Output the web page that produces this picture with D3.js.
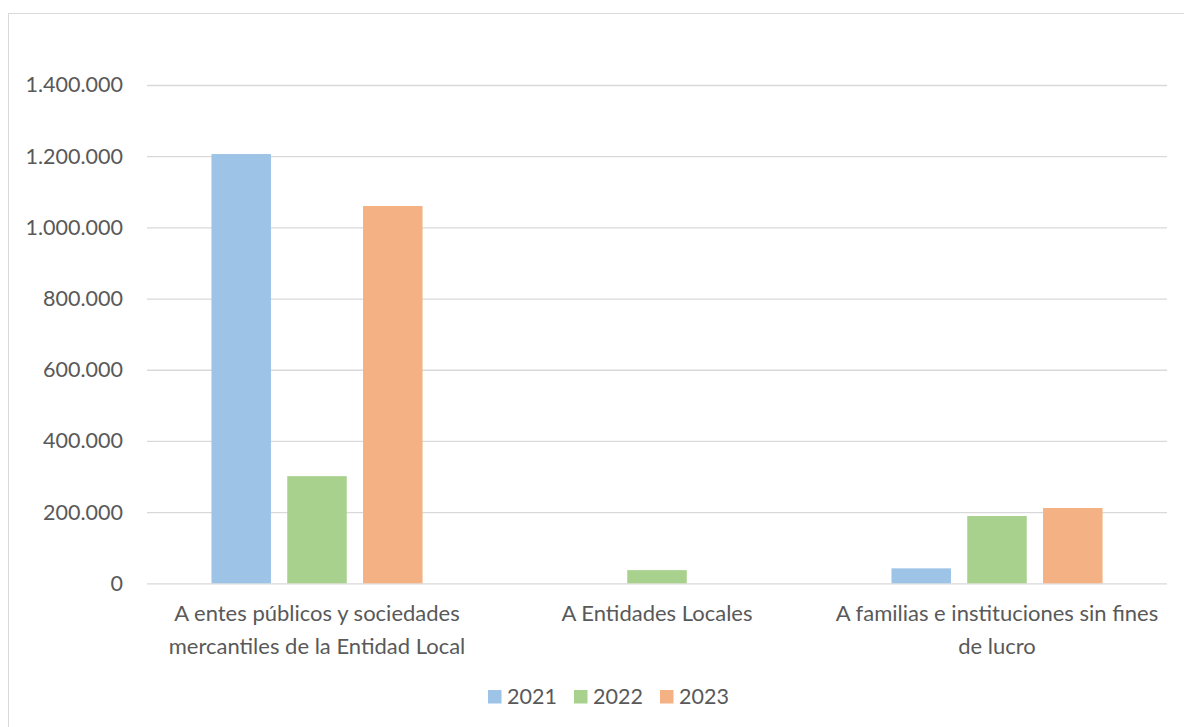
<!DOCTYPE html>
<html><head><meta charset="utf-8">
<script src="https://cdn.jsdelivr.net/npm/d3@7"></script>
<style>
html,body{margin:0;padding:0;background:#fff;}
svg text{font-family:Lato,"Open Sans",sans-serif;fill:#595959;}
</style></head>
<body>
<svg id="c" width="1184" height="727"></svg>
<script>
const categories = ["A entes públicos y sociedades\nmercantiles de la Entidad Local", "A Entidades Locales", "A familias e instituciones sin fines\nde lucro"];
const seriesNames = ["2021", "2022", "2023"];
const values2021 = [1206000, 0, 42000];
const values2022 = [301000, 37000, 189000];
const values2023 = [1060000, 0, 211500];
const seriesValues = [values2021, values2022, values2023];
const seriesColors = ["#9dc3e6", "#a9d18e", "#f4b183"];
const yTicks = [0, 200000, 400000, 600000, 800000, 1000000, 1200000, 1400000];

const svg = d3.select("#c");
const W = 1184, H = 727;
// chart frame
svg.append("rect").attr("x", 8.5).attr("y", 13.5).attr("width", W + 10).attr("height", H + 10)
  .attr("fill", "#fff").attr("stroke", "#d9d9d9").attr("stroke-width", 1);

const x0 = d3.scaleBand().domain(categories).range([147, 1167]).paddingInner(0).paddingOuter(0);
const y = d3.scaleLinear().domain([0, 1400000]).range([583.3, 85]);
const fmt = v => d3.formatLocale({decimal: ",", thousands: ".", grouping: [3], currency: ["", "€"]}).format(",.0f")(v);

// gridlines
const yAxis = d3.axisLeft(y).tickValues(yTicks).tickSize(-(1167 - 147)).tickFormat(fmt).tickPadding(24);
const gy = svg.append("g").attr("transform", "translate(147,0)").call(yAxis);
gy.select(".domain").remove();
gy.selectAll(".tick line").attr("stroke", "#d9d9d9").attr("stroke-width", 1.3);
gy.selectAll(".tick text").attr("font-size", 21.5).style("fill", "#595959");

// bars
const barW = 59.5, gap = 16.3;
const groupW = 3 * barW + 2 * gap;
const xs = d3.scaleBand().domain(seriesNames).range([0, groupW]).paddingInner(gap / (barW + gap)).paddingOuter(0);
seriesNames.forEach((s, si) => {
  svg.append("g").selectAll("rect").data(categories).join("rect")
    .attr("x", c => x0(c) + (x0.bandwidth() - groupW) / 2 + xs(s))
    .attr("width", xs.bandwidth())
    .attr("y", (c, i) => y(seriesValues[si][i]))
    .attr("height", (c, i) => y(0) - y(seriesValues[si][i]))
    .attr("fill", seriesColors[si]);
});

// x axis labels
const xAxis = d3.axisBottom(x0).tickSize(0).tickFormat("");
const gx = svg.append("g").attr("transform", "translate(0," + y(0) + ")").call(xAxis);
gx.select(".domain").remove();
gx.selectAll(".tick").each(function(c) {
  const t = d3.select(this).append("text").attr("text-anchor", "middle").attr("font-size", 22).style("fill", "#595959");
  c.split("\n").forEach((line, i) => {
    t.append("tspan").attr("x", 0).attr("y", 38 + i * 33).text(line);
  });
});

// legend
const legendX = d3.scalePoint().domain(seriesNames).range([488, 660]);
const lg = svg.append("g").selectAll("g").data(seriesNames).join("g")
  .attr("transform", d => "translate(" + legendX(d) + ",690)");
lg.append("rect").attr("width", 13.5).attr("height", 13.5).attr("fill", (d, i) => seriesColors[i]);
lg.append("text").attr("x", 19).attr("y", 13.5).attr("font-size", 21.5).text(d => d);
</script>
</body></html>
